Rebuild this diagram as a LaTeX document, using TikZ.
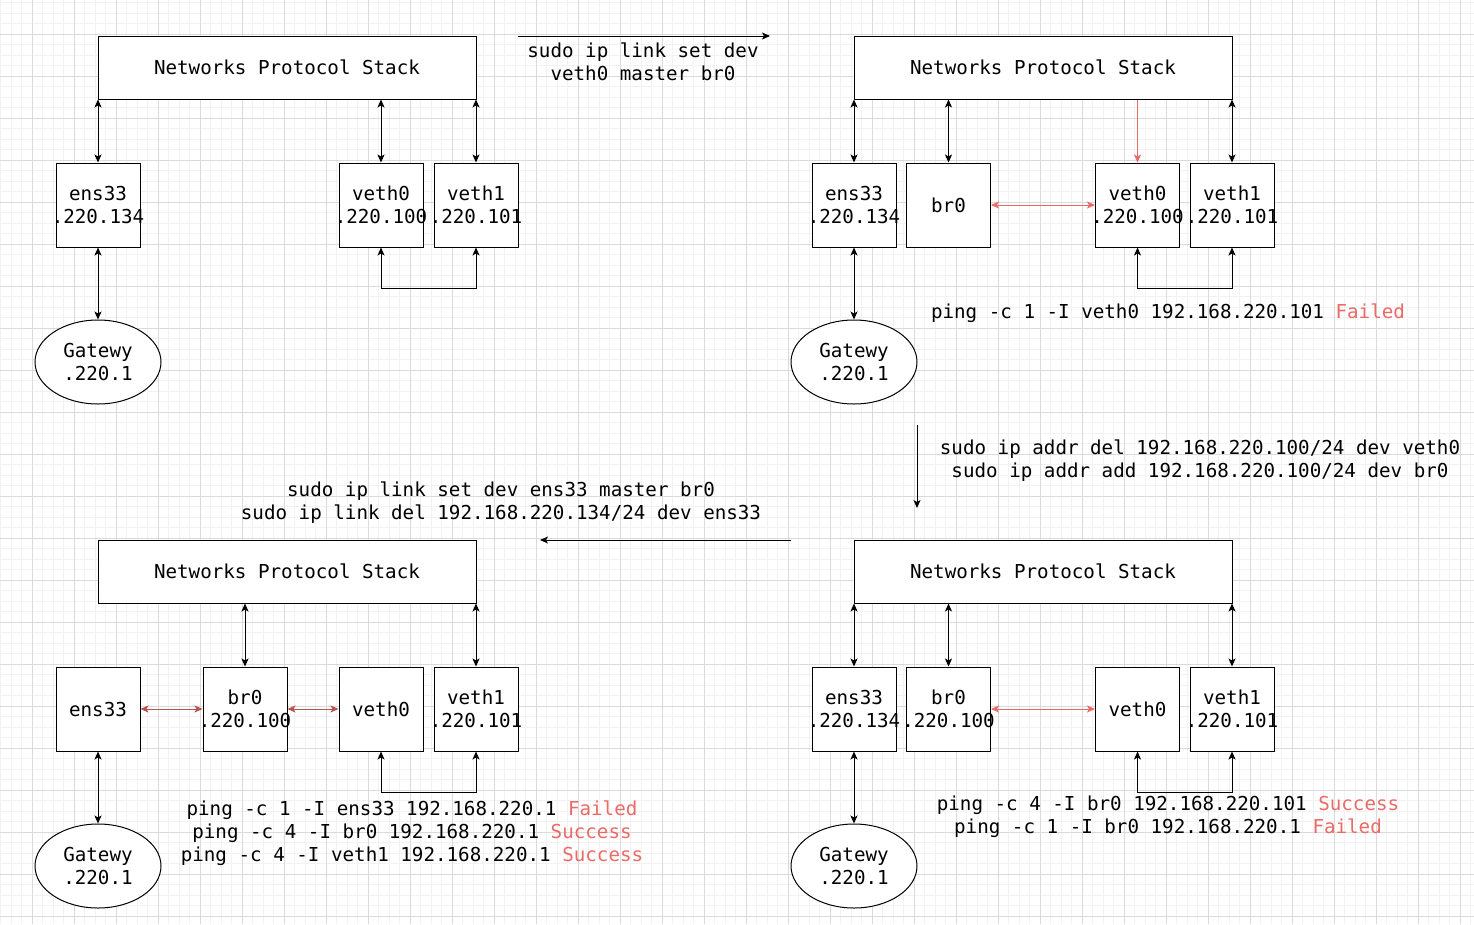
\documentclass[tikz,border=0pt]{standalone}
\usepackage{fontspec}
\usepackage{tikz}
\usetikzlibrary{arrows.meta, shapes.geometric}

\newfontfamily\netfont{DejaVu Sans Mono}
\definecolor{minorgray}{HTML}{F2F2F2}
\definecolor{majorgray}{HTML}{DADADA}
\definecolor{pinkred}{HTML}{EA6B66}
\definecolor{darkred}{HTML}{B85450}

\newcommand{\boxtext}[1]{\makebox[0pt]{#1}}
\newcommand{\failed}{\textcolor{pinkred}{Failed}}
\newcommand{\success}{\textcolor{pinkred}{Success}}

\tikzset{
  minorline/.style={draw=minorgray, line width=0.8pt},
  majorline/.style={draw=majorgray, line width=0.8pt},
  stack/.style={draw, fill=white, line width=1pt, minimum width=378pt,
    minimum height=63pt, inner sep=0pt},
  iface/.style={draw, fill=white, line width=1pt, minimum width=84pt,
    minimum height=84pt, inner sep=0pt, align=center},
  gateway/.style={draw, fill=white, ellipse, line width=1pt,
    minimum width=126pt, minimum height=84pt, inner sep=0pt, align=center},
  link/.style={<->, line width=0.9pt},
  redlink/.style={<->, line width=0.9pt, draw=pinkred},
  darklink/.style={<->, line width=0.9pt, draw=darkred},
  cmd/.style={align=center, inner sep=0pt}
}

\begin{document}
\begin{tikzpicture}[x=1pt, y=-1pt,
  font=\netfont\fontsize{19.2}{23}\selectfont,
  >={Stealth[length=8pt,width=7pt,inset=2pt]}]

\useasboundingbox (0,0) rectangle (1474,924);
\fill[white] (0,0) rectangle (1474,924);

% --- fondo cuadriculado ---
\foreach \i in {0,...,140} \draw[minorline] ({0.8+10.5*\i},0) -- ++(0,924);
\foreach \j in {0,...,87} \draw[minorline] (0,{2.8+10.5*\j}) -- ++(1474,0);
\foreach \i in {0,...,34} \draw[majorline] ({32.3+42*\i},0) -- ++(0,924);
\foreach \j in {0,...,21} \draw[majorline] (0,{34.3+42*\j}) -- ++(1474,0);

% --- paso 1: veth0 y veth1 ---
\node[stack] (stackA) at (287,67.5) {Networks Protocol Stack};
\node[iface] (ensA) at (98,205) {\boxtext{ens33}\\\boxtext{.220.134}};
\node[iface] (vzA) at (381,205) {\boxtext{veth0}\\\boxtext{.220.100}};
\node[iface] (voA) at (476,205) {\boxtext{veth1}\\\boxtext{.220.101}};
\node[gateway] (gwA) at (98,362) {Gatewy\\.220.1};

\draw[link] (ensA.north |- stackA.south) -- (ensA.north);
\draw[link] (vzA.north |- stackA.south) -- (vzA.north);
\draw[link] (voA.north |- stackA.south) -- (voA.north);
\draw[link] (ensA.south) -- (gwA.north);
\draw[link] (vzA.south) -- ++(0,41) -| (voA.south);

% flecha hacia el paso 2
\coordinate (goB1) at (518,36);
\coordinate (goB2) at (770,36);
\draw[->, line width=0.9pt] (goB1) -- (goB2);
\node[cmd] (cmdAB) at (643,61.5) {sudo ip link set dev\\veth0 master br0};

% --- paso 2: veth0 en br0 ---
\node[stack] (stackB) at (1043,67.5) {Networks Protocol Stack};
\node[iface] (ensB) at (854,205) {\boxtext{ens33}\\\boxtext{.220.134}};
\node[iface] (brB) at (948.5,205) {br0};
\node[iface] (vzB) at (1137.5,205) {\boxtext{veth0}\\\boxtext{.220.100}};
\node[iface] (voB) at (1232,205) {\boxtext{veth1}\\\boxtext{.220.101}};
\node[gateway] (gwB) at (854,362) {Gatewy\\.220.1};

\draw[link] (ensB.north |- stackB.south) -- (ensB.north);
\draw[link] (brB.north |- stackB.south) -- (brB.north);
\draw[->, line width=0.9pt, draw=pinkred] (vzB.north |- stackB.south) -- (vzB.north);
\draw[link] (voB.north |- stackB.south) -- (voB.north);
\draw[redlink] (brB.east) -- (vzB.west);
\draw[link] (ensB.south) -- (gwB.north);
\draw[link] (vzB.south) -- ++(0,41) -| (voB.south);

\node[cmd] (pingB) at (1168,313) {ping -c 1 -I veth0 192.168.220.101 \failed};

% flecha hacia el paso 3
\coordinate (goC1) at (917,425);
\coordinate (goC2) at (917,508);
\draw[->, line width=0.9pt] (goC1) -- (goC2);
\node[cmd] (cmdBC) at (1200,460.5)
  {sudo ip addr del 192.168.220.100/24 dev veth0\\sudo ip addr add 192.168.220.100/24 dev br0};

% --- paso 3: direccion en br0 ---
\node[stack] (stackC) at (1043,571.5) {Networks Protocol Stack};
\node[iface] (ensC) at (854,709) {\boxtext{ens33}\\\boxtext{.220.134}};
\node[iface] (brC) at (948.5,709) {\boxtext{br0}\\\boxtext{.220.100}};
\node[iface] (vzC) at (1137.5,709) {veth0};
\node[iface] (voC) at (1232,709) {\boxtext{veth1}\\\boxtext{.220.101}};
\node[gateway] (gwC) at (854,866) {Gatewy\\.220.1};

\draw[link] (ensC.north |- stackC.south) -- (ensC.north);
\draw[link] (brC.north |- stackC.south) -- (brC.north);
\draw[link] (voC.north |- stackC.south) -- (voC.north);
\draw[redlink] (brC.east) -- (vzC.west);
\draw[link] (ensC.south) -- (gwC.north);
\draw[link] (vzC.south) -- ++(0,41) -| (voC.south);

\node[cmd] (pingC) at (1168,817)
  {ping -c 4 -I br0 192.168.220.101 \success\\ping -c 1 -I br0 192.168.220.1 \failed};

% flecha hacia el paso 4
\coordinate (goD1) at (791,540);
\coordinate (goD2) at (540,540);
\draw[->, line width=0.9pt] (goD1) -- (goD2);
\node[cmd] (cmdCD) at (501,502.5)
  {sudo ip link set dev ens33 master br0\\sudo ip link del 192.168.220.134/24 dev ens33};

% --- paso 4: ens33 en br0 ---
\node[stack] (stackD) at (287,571.5) {Networks Protocol Stack};
\node[iface] (ensD) at (98,709) {ens33};
\node[iface] (brD) at (245,709) {\boxtext{br0}\\\boxtext{.220.100}};
\node[iface] (vzD) at (381,709) {veth0};
\node[iface] (voD) at (476,709) {\boxtext{veth1}\\\boxtext{.220.101}};
\node[gateway] (gwD) at (98,866) {Gatewy\\.220.1};

\draw[link] (brD.north |- stackD.south) -- (brD.north);
\draw[link] (voD.north |- stackD.south) -- (voD.north);
\draw[darklink] (ensD.east) -- (brD.west);
\draw[darklink] (brD.east) -- (vzD.west);
\draw[link] (ensD.south) -- (gwD.north);
\draw[link] (vzD.south) -- ++(0,41) -| (voD.south);

\node[cmd] (pingD) at (412,833.3)
  {ping -c 1 -I ens33 192.168.220.1 \failed\\ping -c 4 -I br0 192.168.220.1 \success\\ping -c 4 -I veth1 192.168.220.1 \success};

\end{tikzpicture}
\end{document}
